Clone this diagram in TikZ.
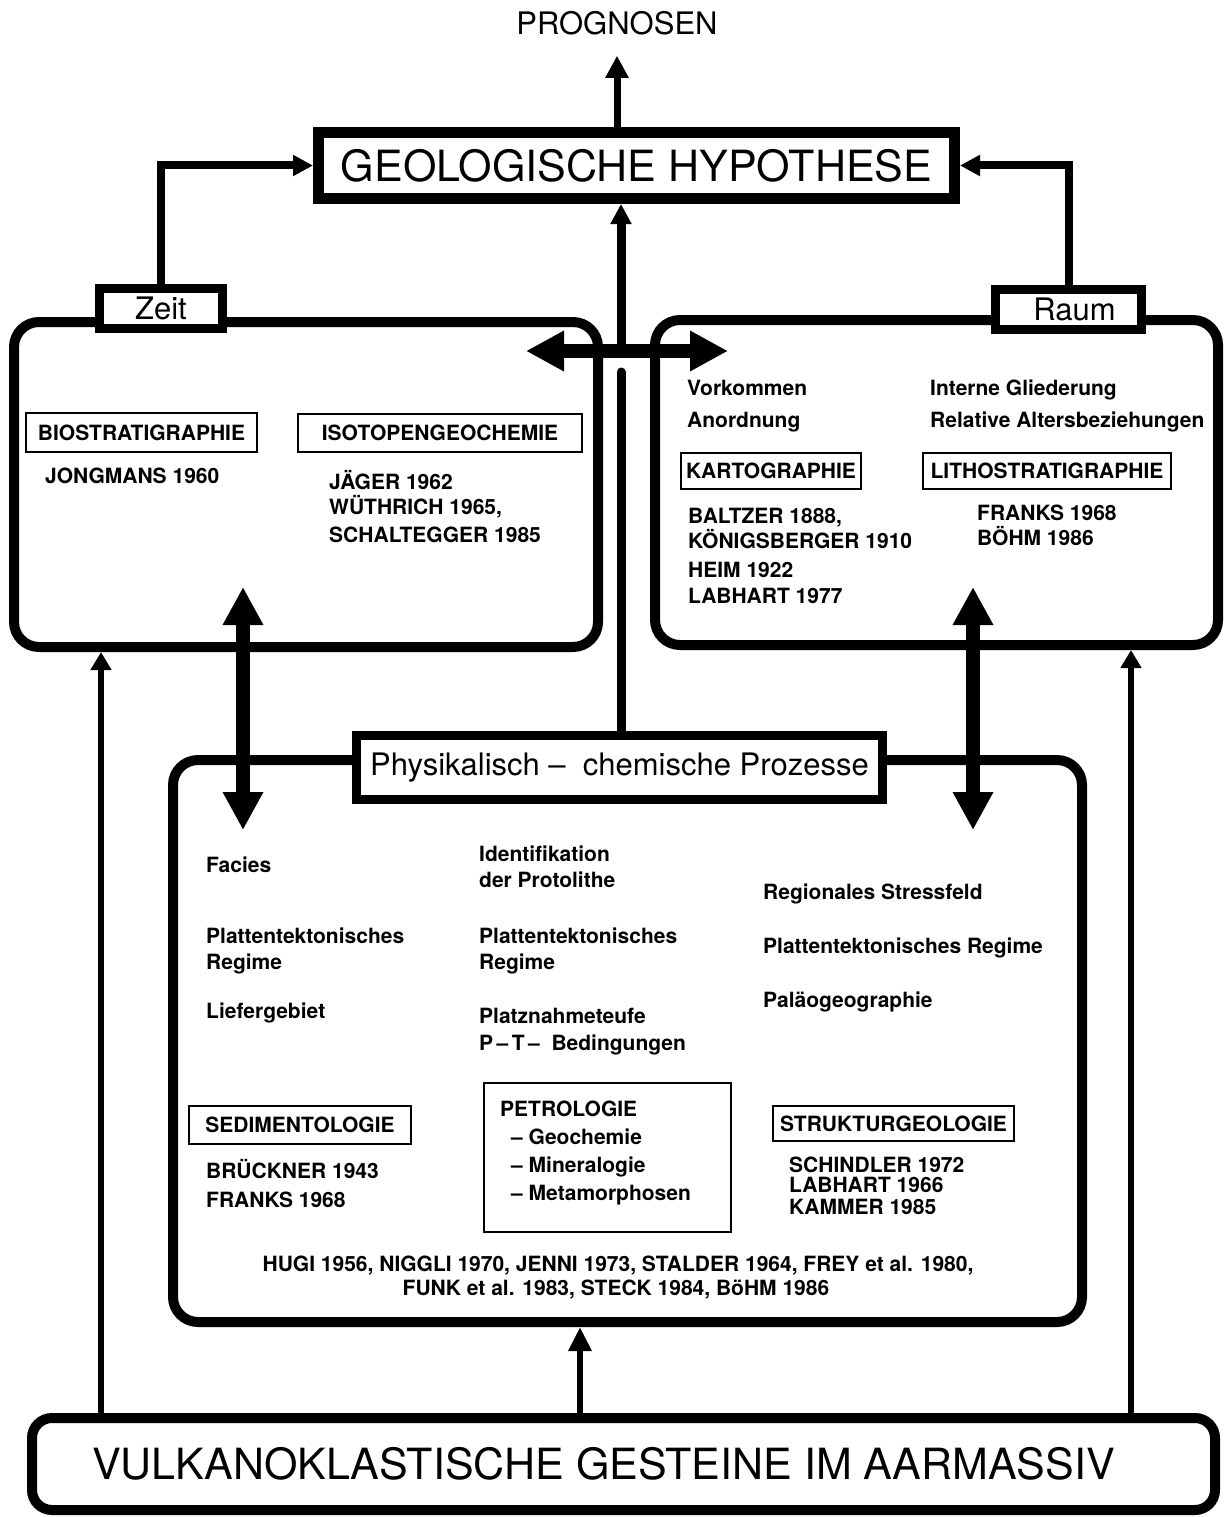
\documentclass[tikz,border=0pt]{standalone}
\usepackage{fontspec}
\setmainfont{TeX Gyre Heros}
\usepackage{tikz}
\usetikzlibrary{arrows.meta}
\newcommand{\gross}{\fontsize{43}{50}\selectfont}
\newcommand{\mittel}{\fontsize{31}{36}\selectfont}
\newcommand{\klein}{\fontsize{21}{24}\selectfont\bfseries}
\tikzset{
	kasten/.style={draw, line width=10pt, rounded corners=25pt, inner sep=0pt},
	titel/.style={draw, line width=9pt, fill=white, inner sep=0pt, font=\mittel},
	rahmen/.style={draw, line width=2pt, inner sep=0pt, font=\klein},
	txt/.style={anchor=base west, inner sep=0pt, font=\klein},
	pfeil/.style={line width=8pt, -{Triangle[length=20pt,width=20pt]}},
	duenn/.style={line width=6pt, -{Triangle[length=18pt,width=20pt]}},
	doppel/.style={line width=14pt, {Triangle[length=38pt,width=38pt]}-{Triangle[length=38pt,width=38pt]}}
}

\begin{document}
\begin{tikzpicture}[x=1pt,y=-1pt]
					\useasboundingbox (0,0) rectangle (1226,1517);

					\node[kasten, minimum width=584pt, minimum height=325pt] (zeitbox) at (306,484.5) {};
					\node[kasten, minimum width=563pt, minimum height=325pt] (raumbox) at (936.5,482.5) {};
					\node[kasten, minimum width=909pt, minimum height=562pt] (lowbox) at (627.5,1041) {};

					\node[titel, minimum width=123pt, minimum height=40pt] (zeit) at (161,308.5) {Zeit};
					\node[titel, minimum width=146pt, minimum height=40pt] (raum) at (1068.5,309.5) {\hspace*{12pt}Raum};
					\node[titel, minimum width=526pt, minimum height=64pt] (phys) at (619.5,767.5) {Physikalisch -- \ chemische Prozesse};

					\node[draw, line width=11pt, inner sep=0pt, minimum width=636pt, minimum height=66pt, font=\gross] (hyp) at (636.5,165.5) {GEOLOGISCHE HYPOTHESE};
					\node[anchor=base, inner sep=0pt, font=\mittel] (prog) at (617,35) {PROGNOSEN};
					\node[kasten, rounded corners=20pt, minimum width=1183pt, minimum height=92pt, font=\gross] (vulk) at (623.5,1464) {VULKANOKLASTISCHE GESTEINE IM AARMASSIV\hspace*{40pt}};

					\node[rahmen, minimum width=231pt, minimum height=39pt] (bio) at (141.5,432.5) {BIOSTRATIGRAPHIE};
					\node[rahmen, minimum width=284pt, minimum height=38pt] (iso) at (440,433) {ISOTOPENGEOCHEMIE};
					\node[txt] (jong) at (45,483) {JONGMANS 1960};
					\node[txt] (iso1) at (329,489) {JÄGER 1962};
					\node[txt] (iso2) at (329,514) {WÜTHRICH 1965,};
					\node[txt] (iso3) at (329,542) {SCHALTEGGER 1985};

					\node[txt] (vork) at (687,395) {Vorkommen};
					\node[txt] (anord) at (687,427) {Anordnung};
					\node[txt] (glied) at (930,395) {Interne Gliederung};
					\node[txt] (alter) at (930,427) {Relative Altersbeziehungen};
					\node[rahmen, minimum width=180pt, minimum height=36pt] (karto) at (771,471) {KARTOGRAPHIE};
					\node[rahmen, minimum width=248pt, minimum height=36pt] (litho) at (1047,471) {LITHOSTRATIGRAPHIE};
					\node[txt] (karto1) at (688,523) {BALTZER 1888,};
					\node[txt] (karto2) at (688,548) {KÖNIGSBERGER 1910};
					\node[txt] (karto3) at (688,577) {HEIM 1922};
					\node[txt] (karto4) at (688,603) {LABHART 1977};
					\node[txt] (litho1) at (977,520) {FRANKS 1968};
					\node[txt] (litho2) at (977,545) {BÖHM 1986};

					\node[txt] (fac) at (206,872) {Facies};
					\node[txt] (sed1) at (206,943) {Plattentektonisches};
					\node[txt] (sed2) at (206,969) {Regime};
					\node[txt] (sed3) at (206,1018) {Liefergebiet};
					\node[txt] (pet1) at (479,861) {Identifikation};
					\node[txt] (pet2) at (479,887) {der Protolithe};
					\node[txt] (pet3) at (479,943) {Plattentektonisches};
					\node[txt] (pet4) at (479,969) {Regime};
					\node[txt] (pet5) at (479,1023) {Platznahmeteufe};
					\node[txt] (pet6) at (479,1050) {P\,--\,T\,-- \ Bedingungen};
					\node[txt] (str1) at (763,899) {Regionales Stressfeld};
					\node[txt] (str2) at (763,953) {Plattentektonisches Regime};
					\node[txt] (str3) at (763,1007) {Paläogeographie};

					\node[rahmen, minimum width=222pt, minimum height=38pt] (sedf) at (300,1125) {SEDIMENTOLOGIE};
					\node[rahmen, minimum width=247pt, minimum height=149pt] (petf) at (607.5,1157.5) {};
					\node[rahmen, minimum width=241pt, minimum height=35pt] (strf) at (893.5,1123.5) {STRUKTURGEOLOGIE};
					\node[txt] (petr) at (500,1116) {PETROLOGIE};
					\node[txt] (geo) at (511,1144) {-- Geochemie};
					\node[txt] (mine) at (511,1172) {-- Mineralogie};
					\node[txt] (meta) at (511,1200) {-- Metamorphosen};
					\node[txt] (sedl1) at (206,1178) {BRÜCKNER 1943};
					\node[txt] (sedl2) at (206,1207) {FRANKS 1968};
					\node[txt] (strl1) at (789,1172) {SCHINDLER 1972};
					\node[txt] (strl2) at (789,1192) {LABHART 1966};
					\node[txt] (strl3) at (789,1214) {KAMMER 1985};
					\node[txt, anchor=base] (lit1) at (618,1271) {HUGI 1956, NIGGLI 1970, JENNI 1973, STALDER 1964, FREY et al. 1980,};
					\node[txt, anchor=base] (lit2) at (616,1295) {FUNK et al. 1983, STECK 1984, BöHM 1986};

					\coordinate (kreuz) at (621,351);
					\coordinate (stummel) at (621,372);
					\coordinate (dl) at (526,351);
					\coordinate (dr) at (728,351);
					\coordinate (vl) at (243,587);
					\coordinate (vr) at (973,587);
					\coordinate (sl) at (101,0);
					\coordinate (sr) at (1131,0);
					\coordinate (um) at (580,0);

					\draw[line width=7pt, -{Triangle[length=22pt,width=22pt]}, shorten >=20pt] (hyp.north -| prog) -- (prog.south);
					\draw[pfeil] (zeit.north) |- (hyp.west);
					\draw[pfeil] (raum.north) |- (hyp.east);
					\draw[pfeil, line width=9pt] (kreuz) -- (hyp.south -| kreuz);
					\draw[line width=9pt, line cap=round] (phys.north -| stummel) -- (stummel);
					\draw[doppel] (dl) -- (dr);
					\draw[doppel] (vl) -- (vl |- 0,830);
					\draw[doppel] (vr) -- (vr |- 0,830);
					\draw[duenn] (vulk.north -| sl) -- (zeitbox.south -| sl);
					\draw[duenn] (vulk.north -| sr) -- (raumbox.south -| sr);
					\draw[line width=6pt, -{Triangle[length=24pt,width=22pt]}] (vulk.north -| um) -- (lowbox.south -| um);

\end{tikzpicture}
\end{document}
